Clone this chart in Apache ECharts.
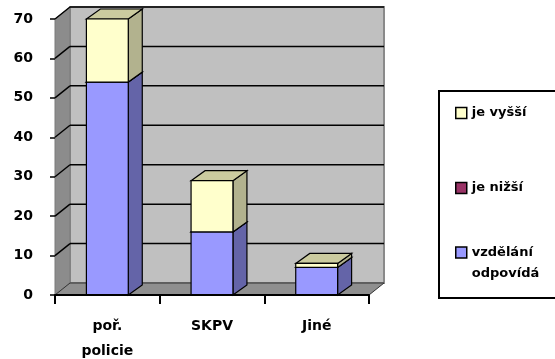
<!DOCTYPE html>
<html>
<head>
<meta charset="utf-8">
<script src="https://cdn.jsdelivr.net/npm/echarts@6/dist/echarts.min.js"></script>
<style>
  html, body { margin: 0; padding: 0; background: #fff; }
  #chart { width: 555px; height: 359px; }
</style>
</head>
<body>
<div id="chart"></div>
<script>
// Categories and stacked values (segments from bottom to top)
const categories = ['poř.\npolicie', 'SKPV', 'Jiné'];
const odpovida = [54, 16, 7];   // vzdělání odpovídá
const nizsi = [0, 0, 0];        // je nižší
const vyssi = [16, 13, 1];      // je vyšší
const yTicks = [0, 10, 20, 30, 40, 50, 60, 70];

const seriesNames = ['vzdělání odpovídá', 'je nižší', 'je vyšší'];
const seriesValues = [odpovida, nizsi, vyssi];
const palette = [
  { front: '#9999ff', side: '#6464a8', top: '#7f7fd4' },
  { front: '#993366', side: '#6a2347', top: '#80294f' },
  { front: '#ffffcc', side: '#b2b28e', top: '#cbcb9f' }
];

// depth offsets for the pseudo-3D look
const wallDX = 15, wallDY = -12;
const barDX = 14, barDY = -10;
const FONT = 'DejaVu Sans';

// build [categoryIndex, low, high] triples by stacking the series
const base = categories.map(() => 0);
const stackedData = seriesValues.map(vals => vals.map((v, i) => {
  const lo = base[i];
  base[i] += v;
  return [i, lo, base[i]];
}));

function renderWalls(params, api) {
  const cs = params.coordSys;
  const x0 = cs.x, x1 = cs.x + cs.width;
  const y0 = api.coord([0, yTicks[0]])[1];
  const yT = api.coord([0, yTicks[yTicks.length - 1]])[1];
  const children = [
    { type: 'rect', shape: { x: x0 + wallDX, y: yT + wallDY, width: x1 - x0, height: y0 - yT },
      style: { fill: '#c0c0c0', stroke: '#8a8a8a', lineWidth: 2 } },
    { type: 'polygon', shape: { points: [[x0, y0], [x0, yT], [x0 + wallDX, yT + wallDY], [x0 + wallDX, y0 + wallDY]] },
      style: { fill: '#8c8c8c', stroke: '#7a7a7a', lineWidth: 1 } },
    { type: 'polygon', shape: { points: [[x0, y0], [x1, y0], [x1 + wallDX, y0 + wallDY], [x0 + wallDX, y0 + wallDY]] },
      style: { fill: '#8f8f8f', stroke: '#333', lineWidth: 1 } }
  ];
  yTicks.forEach(t => {
    if (t === yTicks[0]) return;
    const y = api.coord([0, t])[1];
    children.push({ type: 'line', shape: { x1: x0 + wallDX, y1: y + wallDY, x2: x1 + wallDX, y2: y + wallDY },
      style: { stroke: '#000', lineWidth: 1.5 } });
    children.push({ type: 'line', shape: { x1: x0, y1: y, x2: x0 + wallDX, y2: y + wallDY },
      style: { stroke: '#000', lineWidth: 1.5 } });
  });
  return { type: 'group', children };
}

function makeBarRenderer(colors) {
  return function (params, api) {
    const cat = api.value(0), lo = api.value(1), hi = api.value(2);
    if (hi <= lo) return;
    const pLo = api.coord([cat, lo]);
    const pHi = api.coord([cat, hi]);
    const w = api.size([1, 0])[0] * 0.4;
    const xl = pLo[0] - w / 2, xr = pLo[0] + w / 2;
    const yb = pLo[1], yt = pHi[1];
    const edge = { stroke: '#000', lineWidth: 1.2 };
    return {
      type: 'group',
      children: [
        { type: 'polygon', shape: { points: [[xr, yb], [xr + barDX, yb + barDY], [xr + barDX, yt + barDY], [xr, yt]] },
          style: Object.assign({ fill: colors.side }, edge) },
        { type: 'polygon', shape: { points: [[xl, yt], [xl + barDX, yt + barDY], [xr + barDX, yt + barDY], [xr, yt]] },
          style: Object.assign({ fill: colors.top }, edge) },
        { type: 'rect', shape: { x: xl, y: yt, width: w, height: yb - yt },
          style: Object.assign({ fill: colors.front }, edge) }
      ]
    };
  };
}

const series = [{
  type: 'custom',
  name: 'walls',
  renderItem: renderWalls,
  data: [[0, 0]],
  z: 1,
  silent: true,
  tooltip: { show: false }
}];
seriesNames.forEach((name, k) => {
  series.push({
    type: 'custom',
    name: name,
    renderItem: makeBarRenderer(palette[k]),
    encode: { x: 0, y: [1, 2] },
    data: stackedData[k],
    itemStyle: { color: palette[k].front, borderColor: '#000', borderWidth: 1.5 },
    z: 2 + k
  });
});

const legendText = { fontFamily: FONT, fontWeight: 'bold', fontSize: 13, color: '#000', lineHeight: 16 };
const legendBase = {
  orient: 'vertical', padding: 0, itemWidth: 11, itemHeight: 11, icon: 'rect',
  selectedMode: false,
  itemStyle: { borderColor: '#000', borderWidth: 1.5 }
};

const option = {
  backgroundColor: '#fff',
  animation: false,
  grid: { left: 55, right: 186, top: 19, bottom: 64, outerBoundsMode: 'none', containLabel: false },
  xAxis: {
    type: 'category',
    data: categories,
    z: 10,
    axisLine: { show: true, lineStyle: { color: '#000', width: 2 } },
    axisTick: { show: true, length: 9, lineStyle: { color: '#000', width: 2 } },
    axisLabel: { margin: 19, color: '#000', fontFamily: FONT, fontWeight: 'bold', fontSize: 14, lineHeight: 25 },
    splitLine: { show: false }
  },
  yAxis: {
    type: 'value',
    min: 0, max: 70, interval: 10,
    z: 10,
    axisLine: { show: false },
    axisTick: { show: true, length: 5, lineStyle: { color: '#000', width: 1.5 } },
    axisLabel: { margin: 22, color: '#000', fontFamily: FONT, fontWeight: 'bold', fontSize: 14 },
    splitLine: { show: false }
  },
  legend: [
    Object.assign({}, legendBase, { data: ['je vyšší'], left: 455, top: 105, textStyle: legendText }),
    Object.assign({}, legendBase, { data: ['je nižší'], left: 455, top: 180, textStyle: legendText }),
    Object.assign({}, legendBase, {
      data: ['vzdělání odpovídá'], left: 455, top: 221,
      // blank leading line keeps the first text line level with the swatch
      formatter: () => ' \nvzdělání\nodpovídá',
      textStyle: Object.assign({}, legendText, { lineHeight: 21 })
    })
  ],
  graphic: [{
    type: 'rect', z: 0,
    shape: { x: 439, y: 91, width: 140, height: 207 },
    style: { fill: '#fff', stroke: '#000', lineWidth: 2 }
  }],
  series: series
};

const chart = echarts.init(document.getElementById('chart'), null, { renderer: 'canvas' });
chart.setOption(option);
</script>
</body>
</html>
